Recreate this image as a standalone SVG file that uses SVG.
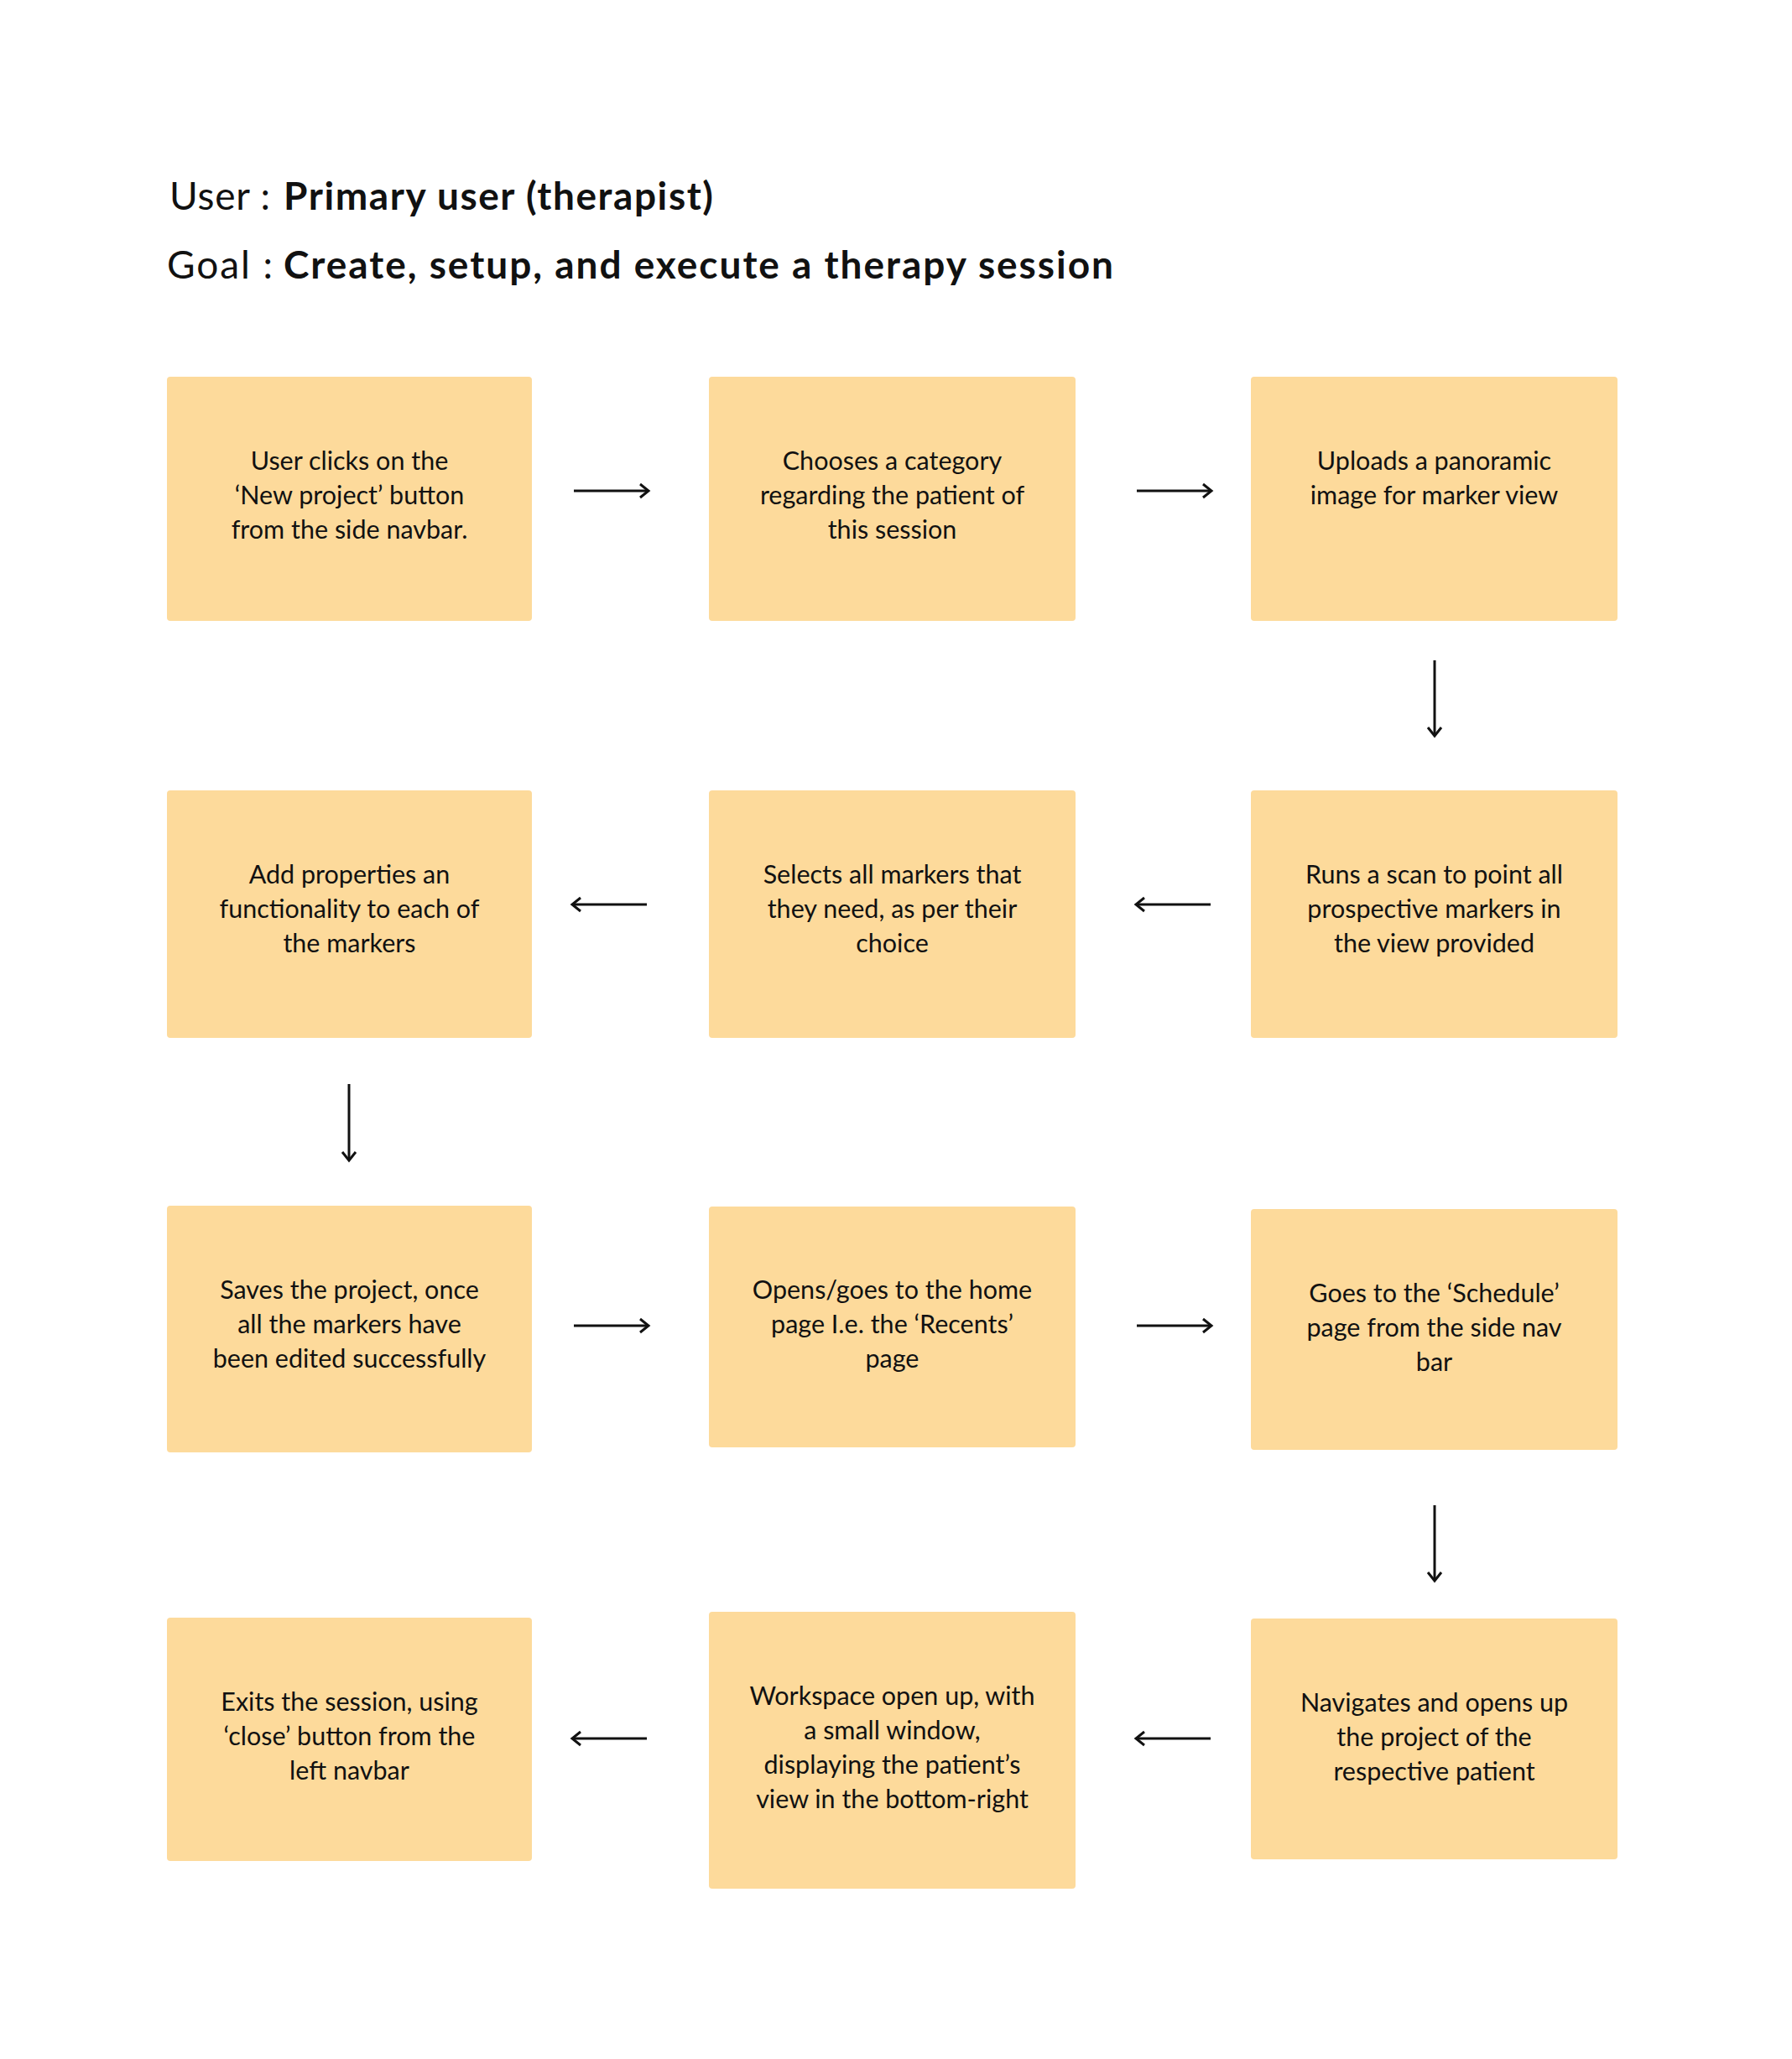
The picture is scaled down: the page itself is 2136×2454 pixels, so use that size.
<svg xmlns="http://www.w3.org/2000/svg" width="2136" height="2454" viewBox="0 0 2136 2454">
<style>
.bg{fill:#FFFFFF}
.box{fill:#FDDA9B}
.t{font-family:Lato,"Noto Sans","Liberation Sans",sans-serif;font-size:30.5px;fill:#111111;text-anchor:middle}
.h{font-family:Lato,"Noto Sans","Liberation Sans",sans-serif;font-size:46px;fill:#111111}
.b{font-weight:700}
.c{stroke:#111111;stroke-width:3;fill:none}
</style>
<defs>
<marker id="arr" markerUnits="userSpaceOnUse" markerWidth="24" markerHeight="24" viewBox="0 0 24 24" refX="14" refY="12" orient="auto">
<path d="M4,4 L14,12 L4,20" fill="none" stroke="#111111" stroke-width="3"/>
</marker>
</defs>
<rect class="bg" x="0" y="0" width="2136" height="2454"/>
<g id="title">
<text class="h" x="202" y="250" textLength="120" lengthAdjust="spacing">User :</text>
<text class="h b" x="338" y="250" textLength="512" lengthAdjust="spacing">Primary user (therapist)</text>
<text class="h" x="199" y="332" textLength="126" lengthAdjust="spacing">Goal :</text>
<text class="h b" x="338" y="332" textLength="989" lengthAdjust="spacing">Create, setup, and execute a therapy session</text>
</g>
<g id="connectors">
<line class="c" x1="684" y1="585" x2="773" y2="585" marker-end="url(#arr)"/>
<line class="c" x1="1355" y1="585" x2="1444" y2="585" marker-end="url(#arr)"/>
<line class="c" x1="1710" y1="787" x2="1710" y2="877" marker-end="url(#arr)"/>
<line class="c" x1="1443" y1="1078" x2="1354" y2="1078" marker-end="url(#arr)"/>
<line class="c" x1="771" y1="1078" x2="682" y2="1078" marker-end="url(#arr)"/>
<line class="c" x1="416" y1="1292" x2="416" y2="1383" marker-end="url(#arr)"/>
<line class="c" x1="684" y1="1580" x2="773" y2="1580" marker-end="url(#arr)"/>
<line class="c" x1="1355" y1="1580" x2="1444" y2="1580" marker-end="url(#arr)"/>
<line class="c" x1="1710" y1="1794" x2="1710" y2="1884" marker-end="url(#arr)"/>
<line class="c" x1="1443" y1="2072" x2="1354" y2="2072" marker-end="url(#arr)"/>
<line class="c" x1="771" y1="2072" x2="682" y2="2072" marker-end="url(#arr)"/>
</g>
<g id="n1"><rect class="box" x="199" y="449" width="435" height="291" rx="4"/>
<text class="t" x="416.5" y="560">User clicks on the</text><text class="t" x="416.5" y="601">‘New project’ button</text><text class="t" x="416.5" y="642">from the side navbar.</text></g>
<g id="n2"><rect class="box" x="845" y="449" width="437" height="291" rx="4"/>
<text class="t" x="1063.5" y="560">Chooses a category</text><text class="t" x="1063.5" y="601">regarding the patient of</text><text class="t" x="1063.5" y="642">this session</text></g>
<g id="n3"><rect class="box" x="1491" y="449" width="437" height="291" rx="4"/>
<text class="t" x="1709.5" y="560">Uploads a panoramic</text><text class="t" x="1709.5" y="601">image for marker view</text></g>
<g id="n4"><rect class="box" x="1491" y="942" width="437" height="295" rx="4"/>
<text class="t" x="1709.5" y="1053">Runs a scan to point all</text><text class="t" x="1709.5" y="1094">prospective markers in</text><text class="t" x="1709.5" y="1135">the view provided</text></g>
<g id="n5"><rect class="box" x="845" y="942" width="437" height="295" rx="4"/>
<text class="t" x="1063.5" y="1053">Selects all markers that</text><text class="t" x="1063.5" y="1094">they need, as per their</text><text class="t" x="1063.5" y="1135">choice</text></g>
<g id="n6"><rect class="box" x="199" y="942" width="435" height="295" rx="4"/>
<text class="t" x="416.5" y="1053">Add properties an</text><text class="t" x="416.5" y="1094">functionality to each of</text><text class="t" x="416.5" y="1135">the markers</text></g>
<g id="n7"><rect class="box" x="199" y="1437" width="435" height="294" rx="4"/>
<text class="t" x="416.5" y="1548">Saves the project, once</text><text class="t" x="416.5" y="1589">all the markers have</text><text class="t" x="416.5" y="1630">been edited successfully</text></g>
<g id="n8"><rect class="box" x="845" y="1438" width="437" height="287" rx="4"/>
<text class="t" x="1063.5" y="1548">Opens/goes to the home</text><text class="t" x="1063.5" y="1589">page I.e. the ‘Recents’</text><text class="t" x="1063.5" y="1630">page</text></g>
<g id="n9"><rect class="box" x="1491" y="1441" width="437" height="287" rx="4"/>
<text class="t" x="1709.5" y="1552">Goes to the ‘Schedule’</text><text class="t" x="1709.5" y="1593">page from the side nav</text><text class="t" x="1709.5" y="1634">bar</text></g>
<g id="n10"><rect class="box" x="1491" y="1929" width="437" height="287" rx="4"/>
<text class="t" x="1709.5" y="2040">Navigates and opens up</text><text class="t" x="1709.5" y="2081">the project of the</text><text class="t" x="1709.5" y="2122">respective patient</text></g>
<g id="n11"><rect class="box" x="845" y="1921" width="437" height="330" rx="4"/>
<text class="t" x="1063.5" y="2032">Workspace open up, with</text><text class="t" x="1063.5" y="2073">a small window,</text><text class="t" x="1063.5" y="2114">displaying the patient’s</text><text class="t" x="1063.5" y="2155">view in the bottom-right</text></g>
<g id="n12"><rect class="box" x="199" y="1928" width="435" height="290" rx="4"/>
<text class="t" x="416.5" y="2039">Exits the session, using</text><text class="t" x="416.5" y="2080">‘close’ button from the</text><text class="t" x="416.5" y="2121">left navbar</text></g>
</svg>
